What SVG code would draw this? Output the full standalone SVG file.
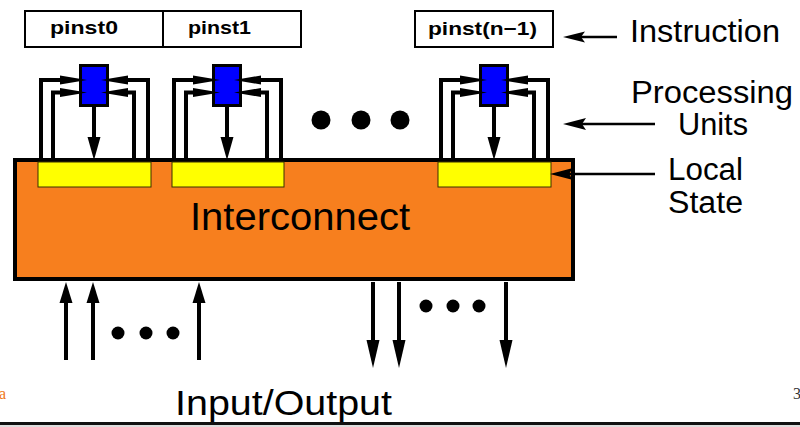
<svg xmlns="http://www.w3.org/2000/svg" xmlns:xlink="http://www.w3.org/1999/xlink" width="800" height="427" viewBox="0 0 800 427">
<style>
.lbl{font-family:"Liberation Sans",Arial,sans-serif;fill:#000}
.pi{font-family:"Liberation Sans",Arial,sans-serif;font-weight:bold;font-size:18.5px;fill:#000}
.w{fill:none;stroke:#000;stroke-width:4}
.thin{fill:none;stroke:#000;stroke-width:2.5}
.ah{fill:#000}
.box{fill:#fff;stroke:#000;stroke-width:2}
.ls{fill:#ffff00;stroke:#3a3000;stroke-width:1}
</style>
<defs>
<g id="pu">
<path class="w" d="M41,158 V80 H62 M53,158 V92.5 H62 M148,158 V80 H126 M134,158 V92.5 H126 M94,106 V140"/>
<rect x="80.5" y="65.5" width="27" height="40" fill="#0000ff" stroke="#000" stroke-width="3"/>
<polygon class="ah" points="60,75.5 87,80 60,84.5"/>
<polygon class="ah" points="60,88 87,92.5 60,97"/>
<polygon class="ah" points="128,75.5 101,80 128,84.5"/>
<polygon class="ah" points="128,88 101,92.5 128,97"/>
<polygon class="ah" points="87.5,137 100.5,137 94,160"/>
</g>
</defs>

<g id="interconnect">
<rect x="15" y="160" width="558" height="119" fill="#f77f1e" stroke="#000" stroke-width="4"/>
<text class="lbl" x="190" y="230" font-size="38" textLength="220" lengthAdjust="spacingAndGlyphs">Interconnect</text>
</g>

<g id="instructions">
<rect class="box" x="25" y="11" width="276" height="36"/>
<line x1="163" y1="11" x2="163" y2="47" stroke="#000" stroke-width="2"/>
<text class="pi" x="50" y="34" textLength="68" lengthAdjust="spacingAndGlyphs">pinst0</text>
<text class="pi" x="188" y="34" textLength="63" lengthAdjust="spacingAndGlyphs">pinst1</text>
<rect class="box" x="415" y="11" width="138" height="36"/>
<text class="pi" x="428" y="35" textLength="109" lengthAdjust="spacingAndGlyphs">pinst(n−1)</text>
</g>

<g id="local-state">
<rect class="ls" x="38" y="162" width="113" height="25"/>
<rect class="ls" x="172" y="162" width="112" height="25"/>
<rect class="ls" x="438" y="162" width="113" height="25"/>
</g>

<g id="pu0"><use xlink:href="#pu"/></g>
<g id="pu1"><use xlink:href="#pu" transform="translate(133,0)"/></g>
<g id="pu2"><use xlink:href="#pu" transform="translate(400,0)"/></g>

<g id="ellipsis">
<circle cx="321" cy="120" r="9.5"/>
<circle cx="361" cy="120" r="9.5"/>
<circle cx="400" cy="120" r="9.5"/>
<circle cx="118" cy="333" r="6.5"/>
<circle cx="146" cy="333" r="6.5"/>
<circle cx="173" cy="333" r="6.5"/>
<circle cx="426" cy="306" r="6.5"/>
<circle cx="453" cy="306" r="6.5"/>
<circle cx="479" cy="306" r="6.5"/>
</g>

<g id="connectors">
<path class="w" d="M66,360 V298 M93,360 V298 M199,360 V298 M373,282 V344 M399,282 V344 M506,282 V344"/>
<polygon class="ah" points="66,282 59.5,303 72.5,303"/>
<polygon class="ah" points="93,282 86.5,303 99.5,303"/>
<polygon class="ah" points="199,282 192.5,303 205.5,303"/>
<polygon class="ah" points="373,368 366.5,340 379.5,340"/>
<polygon class="ah" points="399,368 392.5,340 405.5,340"/>
<polygon class="ah" points="506,368 499.5,340 512.5,340"/>
<path class="thin" d="M576,37 H617 M580,124 H655 M568,174 H655"/>
<polygon class="ah" points="563,37 585,31.5 581,37 585,42.5"/>
<polygon class="ah" points="563,124 586,118 582,124 586,130"/>
<polygon class="ah" points="550,174 573,168 569,174 573,180"/>
</g>

<g id="labels">
<text class="lbl" x="630" y="42" font-size="32" textLength="150" lengthAdjust="spacingAndGlyphs">Instruction</text>
<text class="lbl" x="631" y="103" font-size="31" textLength="162" lengthAdjust="spacingAndGlyphs">Processing</text>
<text class="lbl" x="678" y="135" font-size="31" textLength="70" lengthAdjust="spacingAndGlyphs">Units</text>
<text class="lbl" x="668" y="180" font-size="31" textLength="75" lengthAdjust="spacingAndGlyphs">Local</text>
<text class="lbl" x="668" y="213" font-size="31" textLength="75" lengthAdjust="spacingAndGlyphs">State</text>
<text class="lbl" x="175" y="415" font-size="35" textLength="217" lengthAdjust="spacingAndGlyphs">Input/Output</text>
</g>

<g id="page">
<text x="-1" y="399" font-family="Liberation Serif,serif" font-size="16" fill="#f07818">a</text>
<text x="793" y="399" font-family="Liberation Serif,serif" font-size="16" fill="#333">3</text>
<line x1="0" y1="423.5" x2="800" y2="423.5" stroke="#111" stroke-width="3"/>
<line x1="0" y1="426" x2="800" y2="426" stroke="#bbb" stroke-width="1"/>
</g>
</svg>
